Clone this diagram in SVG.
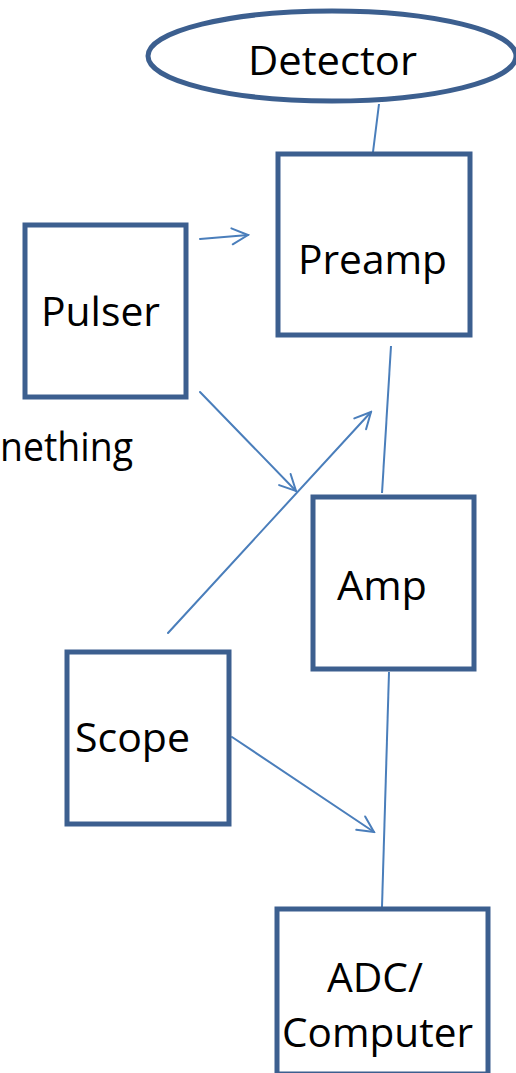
<svg xmlns="http://www.w3.org/2000/svg" width="516" height="1073" viewBox="0 0 516 1073">
<defs>
<style>
.box{fill:#fff;stroke:#3c5f8f;stroke-width:5}
.t{font-family:"Open Sans","Noto Sans",sans-serif;font-size:40px;fill:#000}
.c{stroke:#4a7ebb;stroke-width:2;fill:none}
.a{stroke:#4a7ebb;stroke-width:2;fill:none;stroke-linecap:round}
</style>
<marker id="ah" viewBox="0 0 20 20" refX="18" refY="10" markerWidth="20" markerHeight="20" markerUnits="userSpaceOnUse" orient="auto">
<path d="M2,2 L18,10 L2,18" fill="none" stroke="#4a7ebb" stroke-width="2" stroke-linecap="round"/>
</marker>
</defs>
<rect width="516" height="1073" fill="#fff"/>
<g id="connectors">
<line class="c" x1="379" y1="104" x2="373" y2="152"/>
<line class="c" x1="391" y1="346" x2="382" y2="493"/>
<line class="c" x1="389" y1="672" x2="382" y2="907"/>
<line class="a" x1="200" y1="239" x2="248" y2="235" marker-end="url(#ah)"/>
<line class="a" x1="200" y1="392" x2="296" y2="491" marker-end="url(#ah)"/>
<line class="a" x1="168" y1="633" x2="371" y2="412" marker-end="url(#ah)"/>
<line class="a" x1="232" y1="737" x2="374" y2="832" marker-end="url(#ah)"/>
</g>
<g id="detector">
<ellipse class="box" cx="332" cy="56" rx="184" ry="45"/>
<text class="t" x="248" y="75" textLength="169" lengthAdjust="spacingAndGlyphs">Detector</text>
</g>
<g id="preamp">
<rect class="box" x="278" y="154" width="192" height="181"/>
<text class="t" x="298" y="274" textLength="149" lengthAdjust="spacingAndGlyphs">Preamp</text>
</g>
<g id="pulser">
<rect class="box" x="25" y="225" width="161" height="172"/>
<text class="t" x="41" y="326" textLength="119" lengthAdjust="spacingAndGlyphs">Pulser</text>
</g>
<g id="something">
<text class="t" x="0" y="461" textLength="133" lengthAdjust="spacingAndGlyphs">nething</text>
</g>
<g id="amp">
<rect class="box" x="313" y="497" width="161" height="172"/>
<text class="t" x="337" y="600" textLength="90" lengthAdjust="spacingAndGlyphs">Amp</text>
</g>
<g id="scope">
<rect class="box" x="67" y="652" width="162" height="172"/>
<text class="t" x="75" y="752" textLength="115" lengthAdjust="spacingAndGlyphs">Scope</text>
</g>
<g id="adc">
<rect class="box" x="277" y="909" width="211" height="165"/>
<text class="t" x="327" y="992" textLength="96" lengthAdjust="spacingAndGlyphs">ADC/</text>
<text class="t" x="282" y="1047" textLength="191" lengthAdjust="spacingAndGlyphs">Computer</text>
</g>
</svg>
